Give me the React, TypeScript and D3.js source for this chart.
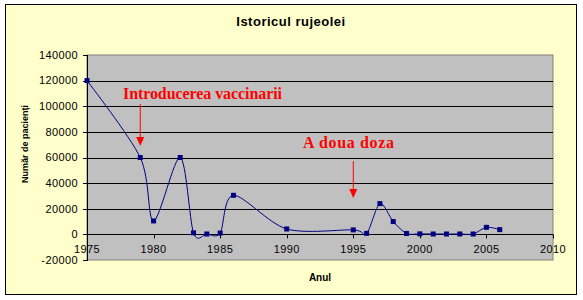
import React from "react";
import * as d3 from "d3";

const years = [1975, 1979, 1980, 1982, 1983, 1984, 1985, 1986, 1990, 1995, 1996, 1997, 1998, 1999, 2000, 2001, 2002, 2003, 2004, 2005, 2006];
const cases = [120000, 60000, 10500, 60000, 1200, 300, 1000, 30500, 4200, 3500, 800, 24000, 10000, 700, 400, 300, 300, 300, 300, 5500, 3700];
const xTicks = [1975, 1980, 1985, 1990, 1995, 2000, 2005, 2010];
const yTicks = [-20000, 0, 20000, 40000, 60000, 80000, 100000, 120000, 140000];
const title = "Istoricul rujeolei";
const xTitle = "Anul";
const yTitle = "Număr de pacienți";
const annotations = [
  { label: "Introducerea vaccinarii", year: 1979, textX: 123, textY: 99, width: 159, from: 104, to: 146 },
  { label: "A doua doza", year: 1995, textX: 303, textY: 148, width: 91, from: 161, to: 198 },
];

export default function App() {
  const W = 583, H = 300;
  const left = 87, right = 553, top = 55, bottom = 260;
  const x = d3.scaleLinear().domain([1975, 2010]).range([left, right]);
  const y = d3.scaleLinear().domain([-20000, 140000]).range([bottom, top]);
  const line = d3
    .line<number>()
    .x((_, i) => x(years[i]))
    .y((d) => y(d))
    .curve(d3.curveCardinal.tension(0.1));
  const font = "Arial, 'Liberation Sans', sans-serif";
  return (
    <svg width={W} height={H} style={{ position: "absolute", left: 0, top: 0 }} fontFamily={font}>
      <rect x={5.5} y={4.5} width={571} height={290} fill="#FFFFCC" stroke="#000" strokeWidth={1} />
      <text x={291} y={26} textAnchor="middle" fontSize={13} fontWeight="bold" letterSpacing={0.5}>{title}</text>
      <rect x={left} y={top} width={right - left} height={bottom - top} fill="#C0C0C0" stroke="#808080" strokeWidth={1} />
      {yTicks.filter((t) => t > -20000 && t < 140000).map((t) => (
        <line key={t} x1={left} x2={right} y1={Math.round(y(t)) + 0.5} y2={Math.round(y(t)) + 0.5} stroke="#000" strokeWidth={1} />
      ))}
      <line x1={left + 0.5} x2={left + 0.5} y1={top} y2={bottom + 1} stroke="#000" />
      {yTicks.map((t) => (
        <g key={t}>
          <line x1={left - 4} x2={left} y1={Math.round(y(t)) + 0.5} y2={Math.round(y(t)) + 0.5} stroke="#000" />
          <text x={78} y={y(t)} dy="0.35em" textAnchor="end" fontSize={11} letterSpacing={0.4}>{t}</text>
        </g>
      ))}
      {xTicks.map((t) => (
        <g key={t}>
          <line x1={Math.round(x(t)) + 0.5} x2={Math.round(x(t)) + 0.5} y1={y(0)} y2={y(0) + 4} stroke="#000" />
          <text x={x(t)} y={253} textAnchor="middle" fontSize={11} letterSpacing={0.4}>{t}</text>
        </g>
      ))}
      <path d={line(cases) || ""} fill="none" stroke="#000080" strokeWidth={1} />
      {cases.map((c, i) => (
        <rect key={i} x={x(years[i]) - 2.5} y={y(c) - 2.5} width={5} height={5} fill="#000080" />
      ))}
      {annotations.map((a) => (
        <g key={a.label}>
          <text x={a.textX} y={a.textY} fill="#FF0000" fontSize={16} fontWeight="bold" textLength={a.width} lengthAdjust="spacing" fontFamily="'Liberation Serif', 'Times New Roman', serif">{a.label}</text>
          <line x1={x(a.year)} x2={x(a.year)} y1={a.from} y2={a.to - 8} stroke="#FF0000" strokeWidth={1} />
          <path d={`M${x(a.year) - 4},${a.to - 9} L${x(a.year) + 4},${a.to - 9} L${x(a.year)},${a.to} Z`} fill="#FF0000" />
        </g>
      ))}
      <text x={320} y={281} textAnchor="middle" fontSize={10} fontWeight="bold">{xTitle}</text>
      <text transform={`translate(28,144) rotate(-90)`} textAnchor="middle" fontSize={9} fontWeight="bold">{yTitle}</text>
    </svg>
  );
}
